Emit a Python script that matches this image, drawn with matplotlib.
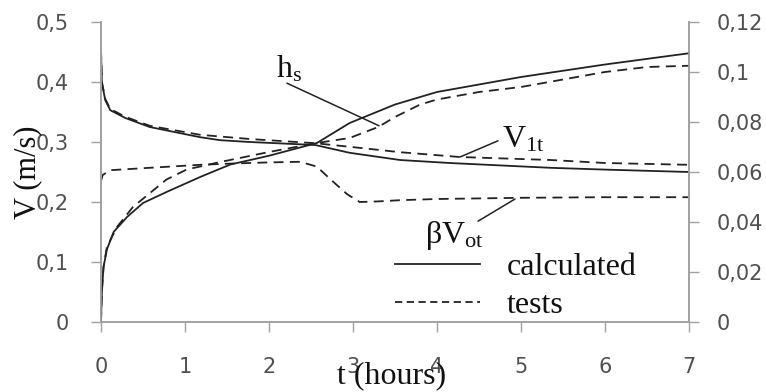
import numpy as np
import matplotlib
matplotlib.use("Agg")
import matplotlib.pyplot as plt
from matplotlib.lines import Line2D

plt.rcParams['mathtext.fontset'] = 'custom'
plt.rcParams['mathtext.rm'] = 'Liberation Serif'
plt.rcParams['mathtext.it'] = 'Liberation Serif:italic'

# V1t, calculated and tests (left axis, m/s)
t_v1t_calc = [0, 0.01, 0.05, 0.11, 0.29, 0.58, 1.18, 1.42, 1.77, 2.55, 2.96, 3.56, 4.15, 5.35, 6.0, 7.0]
v1t_calc = [0.455, 0.40, 0.37, 0.353, 0.34, 0.325, 0.308, 0.303, 0.30, 0.295, 0.282, 0.27, 0.265, 0.257, 0.254, 0.25]
t_v1t_test = [0, 0.01, 0.05, 0.11, 0.29, 0.58, 1.18, 1.77, 2.55, 2.96, 3.56, 4.27, 5.35, 6.0, 7.0]
v1t_test = [0.455, 0.40, 0.372, 0.355, 0.342, 0.327, 0.312, 0.305, 0.298, 0.292, 0.283, 0.275, 0.27, 0.265, 0.262]

# beta*Vot, tests (left axis)
t_bvot = [0, 0.02, 0.11, 0.58, 1.18, 1.54, 2.0, 2.37, 2.57, 2.73, 2.93, 3.08, 3.3, 3.56, 4.0, 5.0, 6.0, 7.0]
bvot_test = [0.235, 0.245, 0.253, 0.257, 0.262, 0.264, 0.266, 0.267, 0.259, 0.238, 0.213, 0.2, 0.201, 0.203, 0.205, 0.207, 0.208, 0.208]

# hs, calculated and tests (right axis)
t_hs_calc = [0, 0.01, 0.03, 0.07, 0.15, 0.31, 0.5, 0.78, 1.18, 1.54, 2.0, 2.57, 2.96, 3.5, 4.0, 5.0, 6.0, 7.0]
hs_calc = [0, 0.012, 0.022, 0.029, 0.036, 0.042, 0.0476, 0.052, 0.058, 0.063, 0.0665, 0.0716, 0.0796, 0.087, 0.092, 0.098, 0.103, 0.1075]
t_hs_test = [0, 0.01, 0.03, 0.07, 0.19, 0.38, 0.78, 1.02, 1.42, 2.0, 2.57, 2.96, 3.3, 3.5, 3.8, 4.0, 4.5, 5.0, 5.5, 6.0, 6.5, 7.0]
hs_test = [0, 0.012, 0.022, 0.03, 0.038, 0.046, 0.057, 0.061, 0.064, 0.068, 0.0716, 0.0736, 0.078, 0.082, 0.087, 0.089, 0.092, 0.094, 0.097, 0.100, 0.102, 0.1025]

x_ticks = [0, 1, 2, 3, 4, 5, 6, 7]
left_ticks = [0, 0.1, 0.2, 0.3, 0.4, 0.5]
left_labels = ['0', '0,1', '0,2', '0,3', '0,4', '0,5']
right_ticks = [0, 0.02, 0.04, 0.06, 0.08, 0.1, 0.12]
right_labels = ['0', '0,02', '0,04', '0,06', '0,08', '0,1', '0,12']

line_col = '#222222'
axis_col = '#a0a0a0'
tick_col = '#505050'
serif = 'Liberation Serif'
dash = (5.5, 3.5)

fig = plt.figure(figsize=(7.66, 3.92), dpi=100)
ax = fig.add_axes([101/766, 70/392, 588/766, 300/392])
ax2 = ax.twinx()

ax.plot(t_v1t_calc, v1t_calc, color=line_col, lw=1.3)
ax.plot(t_v1t_test, v1t_test, color=line_col, lw=1.3, dashes=dash)
ax.plot(t_bvot, bvot_test, color=line_col, lw=1.3, dashes=dash)
ax2.plot(t_hs_calc, hs_calc, color=line_col, lw=1.3)
ax2.plot(t_hs_test, hs_test, color=line_col, lw=1.3, dashes=dash)

ax.set_xlim(0, 7)
ax.set_ylim(0, 0.5)
ax2.set_ylim(0, 0.12)

for a in (ax, ax2):
    a.spines['top'].set_visible(False)
    for s in ('left', 'right', 'bottom'):
        a.spines[s].set_color(axis_col)
        a.spines[s].set_linewidth(1.2)

ax.set_xticks(x_ticks)
ax.set_xticklabels([str(v) for v in x_ticks])
ax.set_yticks(left_ticks)
ax.set_yticklabels(left_labels)
ax2.set_yticks(right_ticks)
ax2.set_yticklabels(right_labels)

ax.tick_params(axis='x', direction='out', length=7, width=1, color=axis_col,
               labelsize=15, labelcolor=tick_col, pad=18)
ax.tick_params(axis='y', direction='out', length=7, width=1, color=axis_col,
               labelsize=15, labelcolor=tick_col, pad=16)
ax2.tick_params(axis='y', direction='out', length=7, width=1, color=axis_col,
                labelsize=15, labelcolor=tick_col, pad=13)

ax.set_ylabel('V (m/s)', family=serif, fontsize=22, color='#111111')
ax.yaxis.set_label_coords(-0.100, 0.5)
ax.set_xlabel('t (hours)', family=serif, fontsize=23, color='#111111', va='center')
ax.xaxis.set_label_coords(0.495, -0.18)

# leader lines and curve names
lead = dict(arrowstyle='-', color=line_col, lw=1.1, shrinkA=0, shrinkB=0)
ax.annotate('', xy=(3.31, 0.327), xytext=(2.214, 0.398), arrowprops=lead)
ax.text(2.083, 0.408, r'$\mathrm{h_s}$', fontsize=23, color='#111111', va='baseline')
ax.annotate('', xy=(4.274, 0.275), xytext=(4.726, 0.302), arrowprops=lead)
ax.text(4.774, 0.29, r'$\mathrm{V_{1t}}$', fontsize=23, color='#111111', va='baseline')
ax.annotate('', xy=(4.929, 0.205), xytext=(4.488, 0.168), arrowprops=lead)
ax.text(3.857, 0.132, r'$\mathrm{\beta V_{ot}}$', fontsize=23, color='#111111', va='baseline')

handles = [Line2D([], [], color=line_col, lw=1.3),
           Line2D([], [], color=line_col, lw=1.3, dashes=(4, 2.5))]
leg = ax.legend(handles, ['calculated', 'tests'], loc='upper left',
                bbox_to_anchor=(0.5, 0.23), frameon=False, borderpad=0,
                borderaxespad=0, handlelength=2.66, handletextpad=0.85,
                labelspacing=0.25, prop={'family': serif, 'size': 23})
for txt in leg.get_texts():
    txt.set_color('#111111')

fig.savefig('out.png', dpi=100)
